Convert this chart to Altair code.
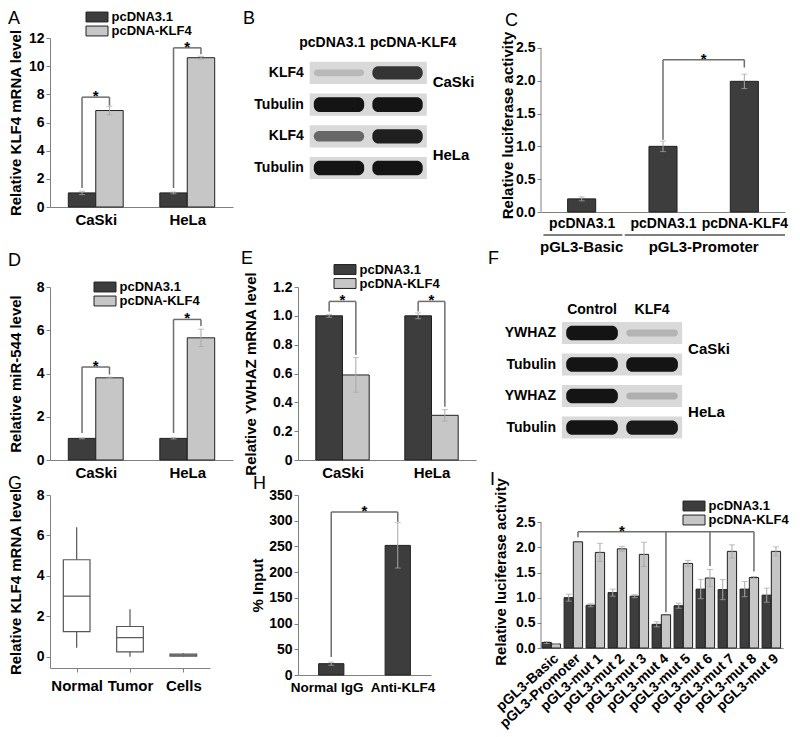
import json
import altair as alt
import pandas as pd

FONT = "Liberation Sans"
DARK = "#3d3d3d"
LIGHT = "#c6c6c6"
EDGE = "#202020"
AXIS_GREY = "#808080"
ERR_GREY = "#a8a8a8"
BR_GREY = "#6e6e6e"
STRIP = "#d9d9d9"
SERIES = ["pcDNA3.1", "pcDNA-KLF4"]
RECT_SYMBOL = "M-2,-0.9H2V0.9H-2Z"

# ---------------- Panel A ----------------
a_groups = ["CaSki", "HeLa"]
a_ctrl = [1.0, 1.0]
a_ctrl_err = [0.12, 0.06]
a_klf4 = [6.85, 10.6]
a_klf4_err = [0.3, 0.1]
a_br_top = [7.8, 11.3]
a_br_left_end = [1.35, 1.35]
a_br_right_end = [7.2, 10.85]

# ---------------- Panel B (western blot) ----------------
b_lanes = ["pcDNA3.1", "pcDNA-KLF4"]
b_rows = ["KLF4", "Tubulin", "KLF4", "Tubulin"]
b_intensity = [[0.15, 0.8], [0.95, 0.95], [0.55, 0.9], [0.95, 0.95]]
b_cells = ["CaSki", "HeLa"]

# ---------------- Panel C ----------------
c_bars = ["pcDNA3.1", "pcDNA3.1", "pcDNA-KLF4"]
c_vals = [0.2, 1.0, 1.99]
c_err = [0.03, 0.08, 0.11]
c_groups = ["pGL3-Basic", "pGL3-Promoter"]
c_group_first = [0, 1]
c_group_last = [0, 2]
c_br_from = 1
c_br_to = 2
c_br_top = 2.32
c_br_left_end = 1.1
c_br_right_end = 2.2

# ---------------- Panel D ----------------
d_groups = ["CaSki", "HeLa"]
d_ctrl = [1.0, 1.0]
d_ctrl_err = [0.02, 0.03]
d_klf4 = [3.8, 5.65]
d_klf4_err = [0.03, 0.4]
d_br_top = [4.3, 6.5]
d_br_left_end = [1.25, 1.25]
d_br_right_end = [3.95, 6.2]

# ---------------- Panel E ----------------
e_groups = ["CaSki", "HeLa"]
e_ctrl = [1.0, 1.0]
e_ctrl_err = [0.01, 0.02]
e_klf4 = [0.59, 0.31]
e_klf4_err = [0.12, 0.04]
e_br_top = [1.1, 1.1]
e_br_left_end = [1.03, 1.03]
e_br_right_end = [0.73, 0.37]

# ---------------- Panel F (western blot) ----------------
f_lanes = ["Control", "KLF4"]
f_rows = ["YWHAZ", "Tubulin", "YWHAZ", "Tubulin"]
f_intensity = [[0.95, 0.18], [0.95, 0.95], [0.95, 0.2], [0.95, 0.92]]
f_cells = ["CaSki", "HeLa"]

# ---------------- Panel G (box plot) ----------------
g_cats = ["Normal", "Tumor", "Cells"]
g_low = [0.45, 0.0, 0.0]
g_q1 = [1.25, 0.25, 0.03]
g_median = [3.0, 0.95, 0.08]
g_q3 = [4.8, 1.5, 0.14]
g_high = [6.4, 2.35, 0.18]

# ---------------- Panel H ----------------
h_cats = ["Normal IgG", "Anti-KLF4"]
h_vals = [22, 252]
h_err = [3, 44]
h_br_top = 317
h_br_left_end = 35
h_br_right_end = 298

# ---------------- Panel I ----------------
i_cats = ["pGL3-Basic", "pGL3-Promoter", "pGL3-mut 1", "pGL3-mut 2", "pGL3-mut 3",
          "pGL3-mut 4", "pGL3-mut 5", "pGL3-mut 6", "pGL3-mut 7", "pGL3-mut 8", "pGL3-mut 9"]
i_ctrl = [0.11, 1.0, 0.85, 1.10, 1.03, 0.47, 0.84, 1.17, 1.16, 1.17, 1.05]
i_ctrl_err = [0.02, 0.07, 0.03, 0.07, 0.03, 0.05, 0.05, 0.19, 0.20, 0.15, 0.14]
i_klf4 = [0.08, 2.11, 1.90, 1.97, 1.86, 0.66, 1.68, 1.39, 1.92, 1.40, 1.92]
i_klf4_err = [0.01, 0.0, 0.18, 0.05, 0.24, 0.0, 0.06, 0.17, 0.13, 0.02, 0.09]
i_br_groups = [1, 5, 7, 9]
i_br_ends = [2.2, 0.71, 1.63, 1.52]
i_br_top = 2.31


# ================= helpers =================
def make_legend(lx, ly):
    return alt.Legend(title=None, orient="none", legendX=lx, legendY=ly,
                      symbolType=RECT_SYMBOL, symbolSize=121, symbolStrokeColor=EDGE,
                      symbolStrokeWidth=1, symbolOpacity=1, labelFont=FONT, labelFontSize=13,
                      labelFontWeight="bold", labelColor="black", labelOffset=8,
                      rowPadding=-1, padding=0)


def cat_axis(names, off, spread=0.0, **kw):
    mid = (len(names) - 1) / 2
    vals = [i + off + spread * (i - mid) for i in range(len(names))]
    expr = f"{json.dumps(names)}[round(datum.value - {off})]"
    opts = dict(values=vals, labelExpr=expr, title=None, ticks=False, labelFlush=False,
                labelOverlap=False, labelFontSize=15, labelPadding=5)
    opts.update(kw)
    return alt.Axis(**opts)


def grouped_frames(ctrl, ctrl_err, klf4, klf4_err, center_off, bw):
    bars, errs, caps = [], [], []
    for g in range(len(ctrl)):
        for s, (vals, es) in enumerate(((ctrl, ctrl_err), (klf4, klf4_err))):
            c = g + center_off + (s - 0.5) * bw
            bars.append({"x": c - bw / 2, "x2": c + bw / 2, "y": vals[g], "y2": 0,
                         "series": SERIES[s]})
            if es[g] > 0:
                errs.append({"x": c, "y": vals[g] - es[g], "y2": vals[g] + es[g]})
                caps.append({"x": c, "y": vals[g] + es[g]})
                caps.append({"x": c, "y": vals[g] - es[g]})
    return pd.DataFrame(bars), pd.DataFrame(errs), pd.DataFrame(caps)


def bar_x(g, s, center_off, bw):
    return g + center_off + (s - 0.5) * bw


def err_layers(errs, caps):
    return [
        alt.Chart(errs).mark_rule(color=ERR_GREY, strokeWidth=1).encode(y2="y2:Q"),
        alt.Chart(caps).mark_tick(orient="horizontal", size=6, thickness=1, color=ERR_GREY),
    ]


def bracket_layers(segs, stars):
    return [
        alt.Chart(pd.DataFrame(segs)).mark_rule(color=BR_GREY, strokeWidth=1.5).encode(
            x2="x2:Q", y2="y2:Q"),
        alt.Chart(pd.DataFrame(stars)).mark_text(font=FONT, fontSize=15, fontWeight="bold",
                                                 baseline="alphabetic", dy=4, color="black"
                                                 ).encode(text="t:N"),
    ]


def simple_brackets(xl_list, xr_list, tops, lefts, rights):
    segs, stars = [], []
    for xl, xr, top, le, rr in zip(xl_list, xr_list, tops, lefts, rights):
        segs += [{"x": xl, "x2": xl, "y": le, "y2": top},
                 {"x": xl, "x2": xr, "y": top, "y2": top},
                 {"x": xr, "x2": xr, "y": rr, "y2": top}]
        stars.append({"x": (xl + xr) / 2, "y": top, "t": "*"})
    return segs, stars


def letter_layer(letter, dx, dy):
    return alt.Chart(pd.DataFrame({"t": [letter]})).mark_text(
        align="left", baseline="middle", font=FONT, fontSize=18, color="black"
    ).encode(text="t:N", x=alt.value(dx), y=alt.value(dy))


def panel(layers, xdom, ydom, xaxis, yaxis, w, h, letter, lxy, yrev=False):
    ykw = dict(domain=ydom, nice=False, zero=False)
    if yrev:
        ykw["reverse"] = True
    return alt.layer(*layers, letter_layer(letter, *lxy)).encode(
        x=alt.X("x:Q", scale=alt.Scale(domain=xdom, nice=False, zero=False), axis=xaxis),
        y=alt.Y("y:Q", scale=alt.Scale(**ykw), axis=yaxis),
    ).properties(width=w, height=h)


def grouped_panel(groups, ctrl, ctrl_err, klf4, klf4_err, tops, lefts, rights,
                  ydom, yaxis, w, h, letter, lxy, legxy, center_off=0.5, bw=0.3, xaxis=None):
    bars, errs, caps = grouped_frames(ctrl, ctrl_err, klf4, klf4_err, center_off, bw)
    n = len(groups)
    xl = [bar_x(g, 0, center_off, bw) for g in range(n)]
    xr = [bar_x(g, 1, center_off, bw) for g in range(n)]
    segs, stars = simple_brackets(xl, xr, tops, lefts, rights)
    layers = [alt.Chart(bars).mark_bar(stroke=EDGE, strokeWidth=1).encode(
        x2="x2:Q", y2="y2:Q",
        color=alt.Color("series:N", scale=alt.Scale(domain=SERIES, range=[DARK, LIGHT]),
                        legend=make_legend(*legxy)))]
    layers += err_layers(errs, caps)
    layers += bracket_layers(segs, stars)
    if xaxis is None:
        xaxis = cat_axis(groups, center_off)
    return panel(layers, [0, n], ydom, xaxis, yaxis, w, h, letter, lxy)


def blot_panel(lanes, rows, intensity, cells, header_y, cell_y, xdom, ydom, w, h,
               letter, lxy, split_headers=False):
    n_l = len(lanes)
    strips = pd.DataFrame([{"x": 0, "x2": n_l, "y": r - 0.35, "y2": r + 0.35}
                           for r in range(len(rows))])
    bands = []
    for r in range(len(rows)):
        for l in range(n_l):
            v = intensity[r][l]
            half = 0.08 + 0.16 * v
            bands.append({"x": l + 0.07, "x2": l + 0.93, "y": r - half, "y2": r + half,
                          "op": v})
    bands = pd.DataFrame(bands)
    row_lab = pd.DataFrame([{"x": -0.1, "y": r, "t": name} for r, name in enumerate(rows)])
    txt = dict(font=FONT, fontWeight="bold", color="black", baseline="middle")
    layers = [
        alt.Chart(strips).mark_rect(fill=STRIP).encode(x2="x2:Q", y2="y2:Q"),
        alt.Chart(bands).mark_rect(fill="#0a0a0a", cornerRadius=6).encode(
            x2="x2:Q", y2="y2:Q", opacity=alt.Opacity("op:Q", scale=None, legend=None)),
        alt.Chart(row_lab).mark_text(align="right", fontSize=14, **txt).encode(text="t:N"),
    ]
    if split_headers:
        left = pd.DataFrame([{"x": 0.95, "y": header_y, "t": lanes[0]}])
        right = pd.DataFrame([{"x": 1.03, "y": header_y, "t": lanes[1]}])
        layers += [
            alt.Chart(left).mark_text(align="right", fontSize=14, **txt).encode(text="t:N"),
            alt.Chart(right).mark_text(align="left", fontSize=14, **txt).encode(text="t:N"),
        ]
    else:
        lane_lab = pd.DataFrame([{"x": l + 0.5, "y": header_y, "t": name}
                                 for l, name in enumerate(lanes)])
        layers.append(alt.Chart(lane_lab).mark_text(align="center", fontSize=14, **txt
                                                    ).encode(text="t:N"))
    cell_lab = pd.DataFrame([{"x": n_l + 0.1, "y": cy, "t": name}
                             for cy, name in zip(cell_y, cells)])
    layers.append(alt.Chart(cell_lab).mark_text(align="left", fontSize=15, **txt
                                                ).encode(text="t:N"))
    return panel(layers, xdom, ydom, None, None, w, h, letter, lxy, yrev=True)


def value_axis(title, values, tp, **kw):
    opts = dict(title=title, values=values, titlePadding=tp, labelFlush=False)
    opts.update(kw)
    return alt.Axis(**opts)


# ================= panels =================
pa = grouped_panel(a_groups, a_ctrl, a_ctrl_err, a_klf4, a_klf4_err,
                   a_br_top, a_br_left_end, a_br_right_end, [0, 12],
                   value_axis("Relative KLF4 mRNA level", [0, 2, 4, 6, 8, 10, 12], 5),
                   183, 169, "A", (-42, -19), (40.5, -27.5))

pb = blot_panel(b_lanes, b_rows, b_intensity, b_cells, -0.95, [0.3, 2.6],
                [-0.2, 2.84], [-1.1, 5.65], 178, 214, "B", (-55, -19), split_headers=True)

# C
c_bw = 0.345
c_bar_df = pd.DataFrame([{"x": i + 0.5 - c_bw / 2, "x2": i + 0.5 + c_bw / 2, "y": v, "y2": 0}
                         for i, v in enumerate(c_vals)])
c_err_df = pd.DataFrame([{"x": i + 0.5, "y": v - e, "y2": v + e}
                         for i, (v, e) in enumerate(zip(c_vals, c_err))])
c_cap_df = pd.DataFrame([{"x": i + 0.5, "y": v + sgn * e}
                         for i, (v, e) in enumerate(zip(c_vals, c_err)) for sgn in (1, -1)])
c_segs, c_stars = simple_brackets([c_br_from + 0.5], [c_br_to + 0.5], [c_br_top],
                                  [c_br_left_end], [c_br_right_end])
c_under = pd.DataFrame([{"x": f + 0.03, "x2": l + 1.0, "y": -0.35, "y2": -0.35}
                        for f, l in zip(c_group_first, c_group_last)])
c_glab = pd.DataFrame([{"x": (f + l + 1) / 2, "y": -0.54, "t": name}
                       for f, l, name in zip(c_group_first, c_group_last, c_groups)])
c_layers = [
    alt.Chart(pd.DataFrame({"x": [0], "y": [0], "y2": [2.5]})).mark_rule(
        color=AXIS_GREY).encode(y2="y2:Q"),
    alt.Chart(c_bar_df).mark_bar(color=DARK, stroke=EDGE, strokeWidth=1).encode(
        x2="x2:Q", y2="y2:Q"),
]
c_layers += err_layers(c_err_df, c_cap_df)
c_layers += bracket_layers(c_segs, c_stars)
c_layers += [
    alt.Chart(c_under).mark_rule(color="#555555", strokeWidth=1.5).encode(x2="x2:Q", y2="y2:Q"),
    alt.Chart(c_glab).mark_text(font=FONT, fontSize=15, fontWeight="bold", color="black",
                                baseline="middle").encode(text="t:N"),
]
pc = panel(c_layers, [0, 3], [0, 2.65], cat_axis(c_bars, 0.5, labelFontSize=14, labelPadding=4),
           value_axis("Relative luciferase activity", [0, 0.5, 1.0, 1.5, 2.0, 2.5], 0,
                      format=".1f", domain=False),
           244, 174, "C", (-36, -17))

pd_ = grouped_panel(d_groups, d_ctrl, d_ctrl_err, d_klf4, d_klf4_err,
                    d_br_top, d_br_left_end, d_br_right_end, [0, 8],
                    value_axis("Relative miR-544 level", [0, 2, 4, 6, 8], 13),
                    183, 173, "D", (-42, -26), (48.5, -6.5))

pe = grouped_panel(e_groups, e_ctrl, e_ctrl_err, e_klf4, e_klf4_err,
                   e_br_top, e_br_left_end, e_br_right_end, [0, 1.2],
                   value_axis("Relative YWHAZ mRNA level", [0, 0.2, 0.4, 0.6, 0.8, 1.0, 1.2], 14,
                              labelExpr="datum.value == 0 ? '0' : format(datum.value, '.1f')"),
                   178, 173, "E", (-57, -28), (40.5, -24))

pf = blot_panel(f_lanes, f_rows, f_intensity, f_cells, -0.73, [0.5, 2.5],
                [-0.35, 3.68], [-1.46, 4.03], 242, 173, "F", (-53, -28))

# G box plot
g_bw = 0.5
g_box = pd.DataFrame([{"x": i + 0.5 - g_bw / 2, "x2": i + 0.5 + g_bw / 2, "y": a, "y2": b}
                      for i, (a, b) in enumerate(zip(g_q1, g_q3))])
g_wh = pd.DataFrame([{"x": i + 0.5, "y": a, "y2": b}
                     for i, (a, b) in enumerate(zip(g_low, g_high))])
g_med = pd.DataFrame([{"x": i + 0.5 - g_bw / 2, "x2": i + 0.5 + g_bw / 2, "y": m, "y2": m}
                      for i, m in enumerate(g_median)])
g_layers = [
    alt.Chart(g_wh).mark_rule(color="#555555", strokeWidth=1.2).encode(y2="y2:Q"),
    alt.Chart(g_box).mark_rect(fill="white", stroke="#555555", strokeWidth=1.2).encode(
        x2="x2:Q", y2="y2:Q"),
    alt.Chart(g_med).mark_rule(color="#555555", strokeWidth=1.2).encode(x2="x2:Q", y2="y2:Q"),
]
pg = panel(g_layers, [0, 3], [-0.55, 8],
           cat_axis(g_cats, 0.5, ticks=True, tickSize=4, labelPadding=6),
           value_axis("Relative KLF4 mRNA level", [0, 2, 4, 6, 8], 13),
           160, 173, "G", (-42, -11))

# H
h_bw = 0.38
h_bar_df = pd.DataFrame([{"x": i + 0.5 - h_bw / 2, "x2": i + 0.5 + h_bw / 2, "y": v, "y2": 0}
                         for i, v in enumerate(h_vals)])
h_err_df = pd.DataFrame([{"x": i + 0.5, "y": v - e, "y2": v + e}
                         for i, (v, e) in enumerate(zip(h_vals, h_err))])
h_cap_df = pd.DataFrame([{"x": i + 0.5, "y": v + sgn * e}
                         for i, (v, e) in enumerate(zip(h_vals, h_err)) for sgn in (1, -1)])
h_segs, h_stars = simple_brackets([0.5], [1.5], [h_br_top], [h_br_left_end], [h_br_right_end])
h_layers = [alt.Chart(h_bar_df).mark_bar(color=DARK, stroke=EDGE, strokeWidth=1).encode(
    x2="x2:Q", y2="y2:Q")]
h_layers += err_layers(h_err_df, h_cap_df)
h_layers += bracket_layers(h_segs, h_stars)
ph = panel(h_layers, [0, 2], [0, 350], cat_axis(h_cats, 0.5, spread=0.14, labelFontSize=13.5),
           value_axis("% Input", [0, 50, 100, 150, 200, 250, 300, 350], 3),
           133, 180, "H", (-45, -11))

# I
i_off, i_bw = 0.47, 0.42
i_bars, i_errs, i_caps = grouped_frames(i_ctrl, i_ctrl_err, i_klf4, i_klf4_err, i_off, i_bw)
i_drop_x = [bar_x(g, 1, i_off, i_bw) for g in i_br_groups]
i_segs = [{"x": i_drop_x[0], "x2": i_drop_x[-1], "y": i_br_top, "y2": i_br_top}]
i_segs += [{"x": x, "x2": x, "y": e, "y2": i_br_top} for x, e in zip(i_drop_x, i_br_ends)]
i_stars = [{"x": (i_drop_x[0] + i_drop_x[1]) / 2, "y": i_br_top, "t": "*"}]
i_layers = [
    alt.Chart(pd.DataFrame({"x": [0], "y": [0], "y2": [2.5]})).mark_rule(
        color=AXIS_GREY).encode(y2="y2:Q"),
    alt.Chart(i_bars).mark_bar(stroke=EDGE, strokeWidth=1).encode(
        x2="x2:Q", y2="y2:Q",
        color=alt.Color("series:N", scale=alt.Scale(domain=SERIES, range=[DARK, LIGHT]),
                        legend=make_legend(146.5, 4.5))),
]
i_layers += err_layers(i_errs, i_caps)
i_layers += bracket_layers(i_segs, i_stars)
pi = panel(i_layers, [0, len(i_cats)], [0, 3.04],
           cat_axis(i_cats, i_off, labelAngle=-42, labelAlign="right", labelBaseline="top",
                    labelFontSize=14, labelPadding=3),
           value_axis("Relative luciferase activity", [0, 0.5, 1.0, 1.5, 2.0, 2.5], 7,
                      format=".1f", domain=False),
           242, 153, "I", (-51, -15))

chart = alt.concat(
    pa, pb, pc, pd_, pe, pf, pg, ph, pi,
    columns=3, spacing={"row": 35, "column": 65}, bounds="flush", align="each",
).resolve_scale(color="independent").resolve_legend(color="independent").properties(
    padding={"left": 0, "top": 2, "right": 0, "bottom": 0}
).configure_view(stroke=None).configure_axis(
    grid=False, domainColor=AXIS_GREY, tickColor=AXIS_GREY, tickSize=4, domainWidth=1,
    labelFont=FONT, labelFontWeight="bold", labelFontSize=14, labelColor="black",
    titleFont=FONT, titleFontWeight="bold", titleFontSize=15, titleColor="black",
)

chart.save("out.html", embed_options={"renderer": "svg", "actions": False})
